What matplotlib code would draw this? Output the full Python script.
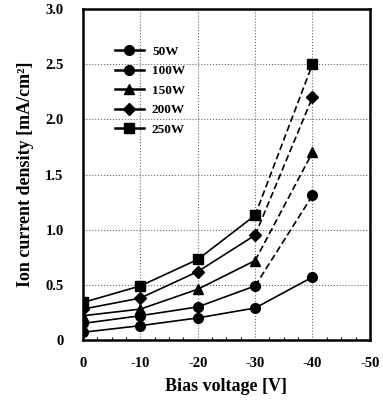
import matplotlib
matplotlib.use("Agg")
import matplotlib.pyplot as plt
from matplotlib.ticker import MultipleLocator

bias = [0, -10, -20, -30, -40]
labels = ["50W", "100W", "150W", "200W", "250W"]
p50 = [0.07, 0.13, 0.20, 0.29, 0.57]
p100 = [0.15, 0.22, 0.30, 0.49, 1.31]
p150 = [0.22, 0.28, 0.46, 0.72, 1.70]
p200 = [0.28, 0.38, 0.62, 0.95, 2.20]
p250 = [0.34, 0.49, 0.73, 1.13, 2.50]
series = [p50, p100, p150, p200, p250]
markers = ["o", "o", "^", "D", "s"]
msizes = [7, 7, 7.5, 6, 7]
dashed_tail = [False, True, True, True, True]
xticks = [0, -10, -20, -30, -40, -50]
yticks = [0, 0.5, 1.0, 1.5, 2.0, 2.5, 3.0]
yticklabels = ["0", "0.5", "1.0", "1.5", "2.0", "2.5", "3.0"]

plt.rcParams['font.family'] = ['Liberation Serif', 'DejaVu Serif']
plt.rcParams['font.weight'] = 'bold'

fig = plt.figure(figsize=(3.83, 4.0), dpi=100)
ax = fig.add_axes([0.2167, 0.15, 0.749, 0.8275])

for vals, m, ms, lab, dt in zip(series, markers, msizes, labels, dashed_tail):
    if dt:
        ax.plot(bias[:4], vals[:4], color='black', lw=1.2, zorder=2)
        ax.plot(bias[3:], vals[3:], color='black', lw=1.2, ls=(0, (4, 2)), zorder=2)
        ax.plot(bias, vals, ls='none', marker=m, ms=ms, color='black', zorder=3)
        ax.plot([], [], color='black', lw=1.8, marker=m, ms=ms, label=lab)
    else:
        ax.plot(bias, vals, color='black', lw=1.2, marker=m, ms=ms, zorder=3)
        ax.plot([], [], color='black', lw=1.8, marker=m, ms=ms, label=lab)

ax.set_xlim(0, -50)
ax.set_ylim(0, 3.0)
ax.set_xticks(xticks)
ax.set_xticklabels([str(t) for t in xticks], fontsize=10.5, fontweight='bold')
ax.set_yticks(yticks)
ax.set_yticklabels(yticklabels, fontsize=10.5, fontweight='bold')
ax.xaxis.set_minor_locator(MultipleLocator(2.5))
ax.tick_params(axis='both', which='major', length=0)
ax.tick_params(axis='x', which='major', pad=12)
ax.tick_params(axis='y', which='major', pad=14)
ax.tick_params(axis='x', which='minor', direction='in', length=2.5, width=0.8)
ax.grid(True, which='major', ls=':', color='#666666', lw=0.8)
for s in ax.spines.values():
    s.set_linewidth(1.8)

ax.set_xlabel("Bias voltage [V]", fontsize=13, fontweight='bold', labelpad=6)
ax.set_ylabel("Ion current density [mA/cm²]", fontsize=13, fontweight='bold', labelpad=8)

leg = ax.legend(loc='upper left', bbox_to_anchor=(0.07, 0.925), frameon=False,
                fontsize=9.5, handlelength=2.2, labelspacing=0.55, handletextpad=0.6)
for t in leg.get_texts():
    t.set_fontweight('bold')

fig.savefig("out.png", dpi=100)
